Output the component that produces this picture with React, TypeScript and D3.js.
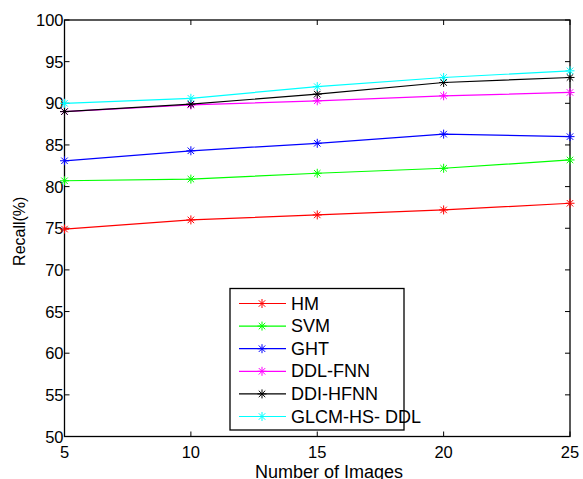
import React, { useRef, useEffect } from 'react';
import * as d3 from 'd3';

const xValues = [5, 10, 15, 20, 25];
const hm = [74.9, 76.0, 76.6, 77.2, 78.0];
const svm = [80.7, 80.9, 81.6, 82.2, 83.2];
const ght = [83.1, 84.3, 85.2, 86.3, 86.0];
const ddlFnn = [89.0, 89.8, 90.3, 90.9, 91.3];
const ddiHfnn = [89.0, 89.9, 91.1, 92.5, 93.1];
const glcm = [90.0, 90.6, 92.0, 93.1, 93.9];
const seriesNames = ['HM', 'SVM', 'GHT', 'DDL-FNN', 'DDI-HFNN', 'GLCM-HS- DDL'];
const seriesColors = ['#ff0000', '#00ff00', '#0000ff', '#ff00ff', '#000000', '#00ffff'];
const yTicks = [50, 55, 60, 65, 70, 75, 80, 85, 90, 95, 100];

const App = () => {
    const svgRef = useRef<SVGSVGElement>(null);

    useEffect(() => {
        const svg = d3.select(svgRef.current);
        svg.selectAll('*').remove();

        const left = 64.5, right = 570, top = 20, bottom = 436.5;
        const font = 'Arial, "Liberation Sans", sans-serif';

        const x = d3.scaleLinear().domain([5, 25]).range([left, right]);
        const y = d3.scaleLinear().domain([50, 100]).range([bottom, top]);

        const allSeries = [hm, svm, ght, ddlFnn, ddiHfnn, glcm];

        // asterisk marker
        const star = (g, cx, cy, color, s = 4.5) => {
            const d = s * 0.72;
            [[-s, 0, s, 0], [0, -s, 0, s], [-d, -d, d, d], [-d, d, d, -d]].forEach(p => {
                g.append('line')
                    .attr('x1', cx + p[0]).attr('y1', cy + p[1])
                    .attr('x2', cx + p[2]).attr('y2', cy + p[3])
                    .attr('stroke', color).attr('stroke-width', 1);
            });
        };

        // frame
        svg.append('rect')
            .attr('x', left).attr('y', top)
            .attr('width', right - left).attr('height', bottom - top)
            .attr('fill', 'none').attr('stroke', '#000').attr('stroke-width', 1.3);

        // x ticks
        xValues.forEach(v => {
            svg.append('line').attr('x1', x(v)).attr('x2', x(v)).attr('y1', bottom).attr('y2', bottom - 5)
                .attr('stroke', '#000');
            svg.append('line').attr('x1', x(v)).attr('x2', x(v)).attr('y1', top).attr('y2', top + 5)
                .attr('stroke', '#000');
            svg.append('text')
                .attr('x', x(v)).attr('y', bottom + 21)
                .attr('text-anchor', 'middle')
                .style('font-family', font).style('font-size', '16.5px')
                .text(v);
        });

        // y ticks
        yTicks.forEach(v => {
            svg.append('line').attr('x1', left).attr('x2', left + 5).attr('y1', y(v)).attr('y2', y(v))
                .attr('stroke', '#000');
            svg.append('line').attr('x1', right).attr('x2', right - 5).attr('y1', y(v)).attr('y2', y(v))
                .attr('stroke', '#000');
            svg.append('text')
                .attr('x', left - 1).attr('y', y(v) + 6)
                .attr('text-anchor', 'end')
                .style('font-family', font).style('font-size', '16.5px')
                .text(v);
        });

        // axis labels
        svg.append('text')
            .attr('x', 329).attr('y', 478)
            .attr('text-anchor', 'middle')
            .style('font-family', font).style('font-size', '18px')
            .text('Number of Images');

        svg.append('text')
            .attr('transform', `translate(25,${(top + bottom) / 2 + 3}) rotate(-90)`)
            .attr('text-anchor', 'middle')
            .style('font-family', font).style('font-size', '16px')
            .text('Recall(%)');

        // series
        const line = d3.line<number>()
            .x((d, i) => x(xValues[i]))
            .y(d => y(d));

        allSeries.forEach((vals, k) => {
            const g = svg.append('g');
            g.append('path')
                .datum(vals)
                .attr('d', line)
                .attr('fill', 'none')
                .attr('stroke', seriesColors[k])
                .attr('stroke-width', 1.2);
            vals.forEach((v, i) => star(g, x(xValues[i]), y(v), seriesColors[k]));
        });

        // legend
        const lg = svg.append('g');
        lg.append('rect')
            .attr('x', 230).attr('y', 288.5)
            .attr('width', 174).attr('height', 141.5)
            .attr('fill', '#fff').attr('stroke', '#000').attr('stroke-width', 1.3);
        seriesNames.forEach((name, k) => {
            const ly = 303.5 + k * 22.6;
            lg.append('line')
                .attr('x1', 239).attr('x2', 286).attr('y1', ly).attr('y2', ly)
                .attr('stroke', seriesColors[k]).attr('stroke-width', 1.2);
            star(lg, 262, ly, seriesColors[k]);
            lg.append('text')
                .attr('x', 291).attr('y', ly + 6)
                .style('font-family', font).style('font-size', '18px')
                .text(name);
        });
    }, []);

    return (
        <svg ref={svgRef} width={583} height={479} style={{ display: 'block', position: 'absolute', left: 0, top: 0 }}></svg>
    );
};

export default App;
